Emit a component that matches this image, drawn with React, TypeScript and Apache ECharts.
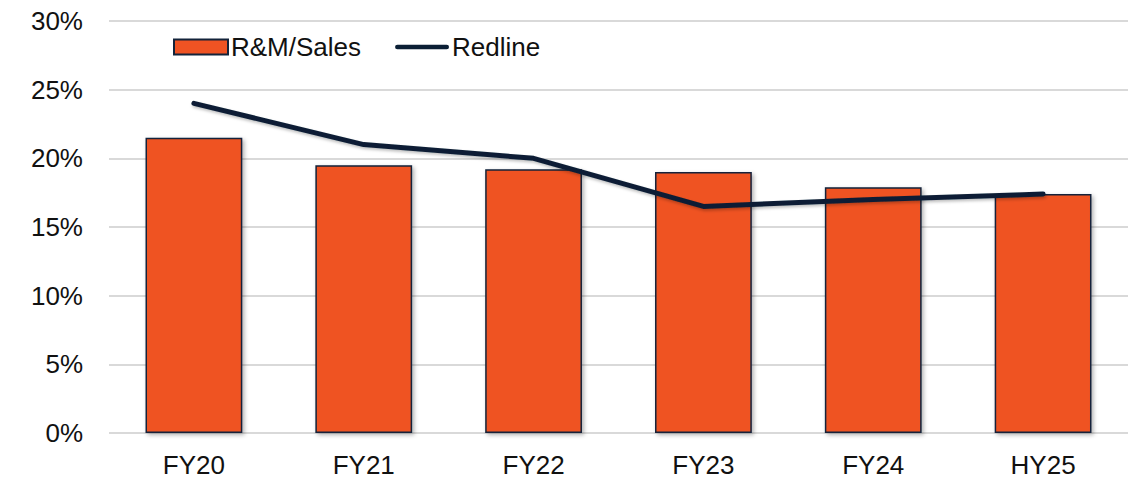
import React, { useEffect, useRef } from "react";
import * as echarts from "echarts";

const categories = ["FY20", "FY21", "FY22", "FY23", "FY24", "HY25"];
const rmSales = [21.5, 19.5, 19.2, 19.0, 17.9, 17.4];
const redline = [24.0, 21.0, 20.0, 16.5, 17.0, 17.4];
const yTicks = [0, 5, 10, 15, 20, 25, 30];

const FONT = "'Liberation Sans', Arial, Helvetica, sans-serif";

export default function App() {
  const ref = useRef<HTMLDivElement>(null);
  useEffect(() => {
    if (!ref.current) return;
    document.body.style.margin = "0";
    const chart = echarts.init(ref.current, null, { renderer: "svg" });
    chart.setOption({
      animation: false,
      backgroundColor: "#ffffff",
      textStyle: { fontFamily: FONT },
      grid: { left: 109, right: 14, top: 21, bottom: 51, containLabel: false },
      legend: {
        left: 168,
        top: 29,
        itemWidth: 54,
        itemHeight: 15,
        itemGap: 34,
        textStyle: { fontSize: 26, color: "#111", fontFamily: FONT, padding: [0, 0, 0, -2] },
        data: [
          { name: "R&M/Sales", icon: "rect" },
          { name: "Redline", icon: "path://M2.5,0H54.5A2.5,2.5,0,0,1,54.5,5H2.5A2.5,2.5,0,0,1,2.5,0Z" },
        ],
      },
      xAxis: {
        type: "category",
        data: categories,
        axisLine: { show: false },
        axisTick: { show: false },
        axisLabel: { fontSize: 26, color: "#111", margin: 19, fontFamily: FONT },
      },
      yAxis: {
        type: "value",
        min: yTicks[0],
        max: yTicks[yTicks.length - 1],
        interval: 5,
        axisLine: { show: false },
        axisTick: { show: false },
        splitLine: { lineStyle: { color: "#d9d9d9", width: 2 } },
        axisLabel: {
          fontSize: 26,
          color: "#111",
          margin: 26,
          fontFamily: FONT,
          formatter: (v: number) => `${v}%`,
        },
      },
      series: [
        {
          name: "R&M/Sales",
          type: "bar",
          data: rmSales,
          barWidth: "57%",
          itemStyle: {
            color: "#ef5323",
            borderColor: "#13233a",
            borderWidth: 1.5,
            shadowColor: "rgba(0,0,0,0.3)",
            shadowBlur: 4,
            shadowOffsetX: 2,
            shadowOffsetY: 2,
          },
        },
        {
          name: "Redline",
          type: "line",
          data: redline,
          symbol: "none",
          lineStyle: {
            color: "#0b1f35",
            width: 5,
            cap: "round",
            shadowColor: "rgba(0,0,0,0.25)",
            shadowBlur: 3,
            shadowOffsetX: 1,
            shadowOffsetY: 2,
          },
          itemStyle: { color: "#0b1f35" },
        },
      ],
    });
    return () => chart.dispose();
  }, []);
  return <div ref={ref} style={{ width: 1142, height: 484 }} />;
}
